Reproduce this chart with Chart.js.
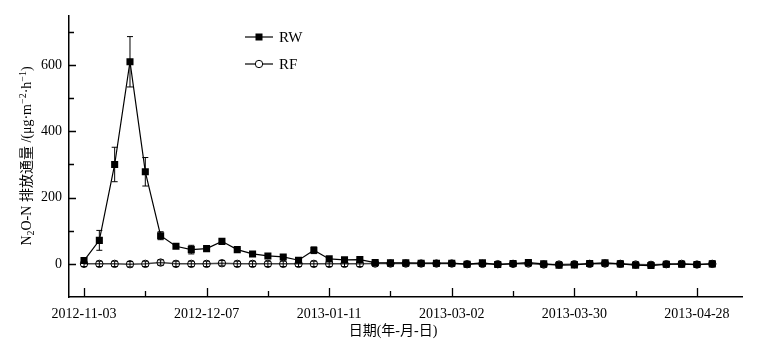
<!DOCTYPE html>
<html lang="zh">
<head>
    <meta charset="UTF-8">
    <title>N2O-N 排放通量</title>
    <script src="https://cdn.jsdelivr.net/npm/chart.js"></script>
    <style>
        body { margin: 0; background: #ffffff; }
        canvas { display: block; }
    </style>
</head>
<body>
    <canvas id="flux-chart" width="769" height="345"></canvas>

    <script>
        // sampling index -> date label (every 8th sample is labelled)
        const tickLabels = ['2012-11-03', '2012-12-07', '2013-01-11', '2013-03-02', '2013-03-30', '2013-04-28'];

        const rwValues = [10, 71, 300, 610, 278, 85, 53, 43, 46, 68,
                          43, 30, 24, 21, 11, 41, 15, 12, 13, 4,
                          3, 3, 2, 2, 2, -1, 3, -2, 1, 4,
                          0, -4, -3, 1, 3, 0, -4, -5, -1, -1, -2, 0];
        const rwErrors = [5, 30, 52, 76, 43, 12, 6, 13, 5, 6,
                          4, 4, 3, 3, 3, 10, 3, 3, 3, 2,
                          2, 2, 2, 2, 2, 2, 3, 2, 2, 3,
                          2, 2, 2, 2, 3, 2, 2, 3, 2, 2, 2, 3];
        const rfValues = [0, 0, 0, -1, 0, 4, 0, 0, 0, 2,
                          0, 0, 0, 0, 0, 0, 0, 0, 0, 1,
                          1, 1, 1, 1, 1, -1, 0, -1, 0, 1,
                          -2, -2, -1, 0, 1, 0, -2, -3, -1, 0, -2, 0];
        const rfErrors = rfValues.map(() => 8);

        const serif = '"Liberation Serif", "Times New Roman", "Noto Sans CJK SC", serif';

        const toPoints = arr => arr.map((v, i) => ({x: i, y: v}));

        // error bars with caps
        const errorBars = {
            id: 'errorBars',
            afterDatasetsDraw(chart) {
                const {ctx, scales: {y}} = chart;
                const errs = [rwErrors, rfErrors];
                const vals = [rwValues, rfValues];
                ctx.save();
                ctx.strokeStyle = '#000';
                ctx.lineWidth = 1;
                chart.data.datasets.forEach((ds, di) => {
                    const meta = chart.getDatasetMeta(di);
                    meta.data.forEach((pt, j) => {
                        const top = y.getPixelForValue(vals[di][j] + errs[di][j]);
                        const bot = y.getPixelForValue(vals[di][j] - errs[di][j]);
                        ctx.beginPath();
                        ctx.moveTo(pt.x, top); ctx.lineTo(pt.x, bot);
                        ctx.moveTo(pt.x - 3, top); ctx.lineTo(pt.x + 3, top);
                        ctx.moveTo(pt.x - 3, bot); ctx.lineTo(pt.x + 3, bot);
                        ctx.stroke();
                    });
                });
                ctx.restore();
            }
        };

        // inward tick marks, legend and axis titles
        const decorations = {
            id: 'decorations',
            afterDraw(chart) {
                const {ctx, chartArea, scales: {x, y}} = chart;
                ctx.save();
                ctx.strokeStyle = '#000';
                ctx.lineWidth = 1.3;
                ctx.beginPath();
                for (let v = 0; v <= 40; v += 4) {
                    const px = Math.round(x.getPixelForValue(v)) + 0.5;
                    const len = v % 8 === 0 ? 9 : 6;
                    ctx.moveTo(px, chartArea.bottom);
                    ctx.lineTo(px, chartArea.bottom - len);
                }
                for (let v = 0; v <= 700; v += 100) {
                    const py = Math.round(y.getPixelForValue(v)) + 0.5;
                    const len = v % 200 === 0 ? 7 : 5;
                    ctx.moveTo(chartArea.left, py);
                    ctx.lineTo(chartArea.left + len, py);
                }
                ctx.stroke();

                // legend
                ctx.lineWidth = 1.2;
                ctx.font = '15px ' + serif;
                ctx.fillStyle = '#000';
                ctx.textBaseline = 'middle';
                [['RW', 37], ['RF', 64]].forEach(([name, ly], k) => {
                    ctx.beginPath();
                    ctx.moveTo(245, ly); ctx.lineTo(273, ly);
                    ctx.stroke();
                    if (k === 0) {
                        ctx.fillRect(255.5, ly - 3.5, 7, 7);
                    } else {
                        ctx.beginPath();
                        ctx.arc(259, ly, 3.7, 0, Math.PI * 2);
                        ctx.fillStyle = '#fff';
                        ctx.fill();
                        ctx.lineWidth = 1;
                        ctx.stroke();
                        ctx.fillStyle = '#000';
                    }
                    ctx.fillText(name, 279, ly + 1);
                });

                // x title
                ctx.font = '14px ' + serif;
                ctx.textAlign = 'center';
                ctx.fillText('日期(年-月-日)', 393, 331);

                // y title with sub/superscripts
                const parts = [
                    ['N', 0], ['2', 1], ['O-N 排放通量 /(μg·m', 0], ['−2', -1],
                    ['·h', 0], ['−1', -1], [')', 0]
                ];
                const big = '14px ' + serif, small = '10px ' + serif;
                let total = 0;
                parts.forEach(([t, s]) => { ctx.font = s ? small : big; total += ctx.measureText(t).width; });
                ctx.translate(27, 156);
                ctx.rotate(-Math.PI / 2);
                ctx.textAlign = 'left';
                let cx = -total / 2;
                parts.forEach(([t, s]) => {
                    ctx.font = s ? small : big;
                    ctx.fillText(t, cx, s === 1 ? 4 : (s === -1 ? -4 : 0));
                    cx += ctx.measureText(t).width;
                });
                ctx.restore();
            }
        };

        const ctx = document.getElementById('flux-chart').getContext('2d');
        new Chart(ctx, {
            type: 'line',
            data: {
                datasets: [{
                    label: 'RW',
                    data: toPoints(rwValues),
                    borderColor: '#000',
                    borderWidth: 1.2,
                    pointStyle: 'rect',
                    pointRadius: 5,
                    pointBackgroundColor: '#000',
                    pointBorderColor: '#000',
                    pointBorderWidth: 0,
                    tension: 0
                }, {
                    label: 'RF',
                    data: toPoints(rfValues),
                    borderColor: '#444',
                    borderWidth: 1.5,
                    pointStyle: 'circle',
                    pointRadius: 3.7,
                    pointBackgroundColor: 'rgba(255,255,255,0)',
                    pointBorderColor: '#000',
                    pointBorderWidth: 1,
                    tension: 0
                }]
            },
            options: {
                responsive: false,
                animation: false,
                layout: { padding: { top: 10, right: 27, left: 0, bottom: 0 } },
                plugins: { legend: { display: false }, tooltip: { enabled: false } },
                scales: {
                    x: {
                        type: 'linear',
                        min: -0.98,
                        max: 42.94,
                        afterFit: s => { s.height = 48; },
                        grid: { display: false, drawTicks: false },
                        border: { display: true, color: '#000', width: 1.5 },
                        ticks: {
                            stepSize: 4,
                            includeBounds: false,
                            autoSkip: false,
                            maxRotation: 0,
                            padding: 9,
                            color: '#000',
                            font: { family: serif, size: 14 },
                            callback: v => (v % 8 === 0 ? tickLabels[v / 8] : '')
                        }
                    },
                    y: {
                        min: -100,
                        max: 750,
                        afterFit: s => { s.width = 69; },
                        grid: { display: false, drawTicks: false },
                        border: { display: true, color: '#000', width: 1.5 },
                        ticks: {
                            stepSize: 100,
                            includeBounds: false,
                            padding: 7,
                            color: '#000',
                            font: { family: serif, size: 14 },
                            callback: v => (v >= 0 && v % 200 === 0 && v <= 600 ? v : '')
                        }
                    }
                }
            },
            plugins: [errorBars, decorations]
        });
    </script>
</body>
</html>
